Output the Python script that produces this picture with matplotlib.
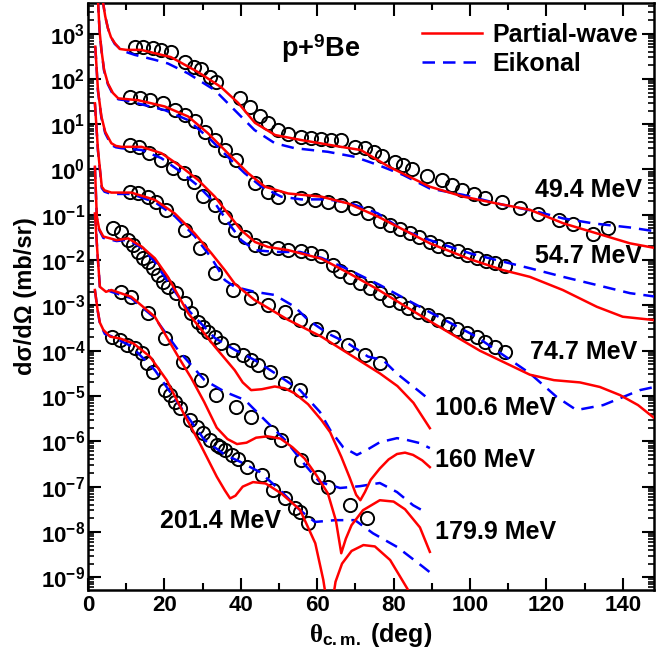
import numpy as np
import matplotlib
matplotlib.use("Agg")
import matplotlib.pyplot as plt
from matplotlib.ticker import FixedLocator, MultipleLocator, FuncFormatter, NullFormatter

plt.rcParams['font.family'] = 'Liberation Sans'
plt.rcParams['font.weight'] = 'bold'
plt.rcParams['mathtext.fontset'] = 'custom'
plt.rcParams['mathtext.bf'] = 'Liberation Sans:bold'
plt.rcParams['mathtext.rm'] = 'Liberation Serif'
plt.rcParams['mathtext.it'] = 'Liberation Serif:italic'

# angles in deg, cross sections given as log10(dsigma/dOmega [mb/sr])

# ---- 49.4 MeV
pw494_th = [3.0, 3.9, 4.5, 5.2, 6.0, 7.0, 8.3, 10.0, 13.9, 21.7, 28.8, 34.8, 39.3, 43.7, 49.0, 55.8, 66.2,
            71.4, 78.8, 89.5, 98.3, 107.0, 115.7, 124.5, 133.2, 141.9, 148.9]
pw494_lg = [4.30, 3.70, 3.38, 3.12, 2.92, 2.79, 2.66, 2.64, 2.64, 2.48, 2.15, 1.82, 1.47, 1.03, 0.76, 0.65, 0.50,
            0.43, 0.06, -0.38, -0.60, -0.75, -0.89, -1.19, -1.41, -1.63, -1.74]
ek494_th = [3.0, 3.9, 4.5, 5.2, 6.0, 7.0, 9.0, 12.2, 17.5, 20.9, 26.2, 33.2, 38.4, 43.6, 48.9, 54.1, 62.8,
            69.8, 75.9, 82.5, 89.5, 98.2, 108.7, 117.5, 124.4, 132.3, 141.9, 148.9]
ek494_lg = [4.30, 3.70, 3.38, 3.12, 2.92, 2.77, 2.62, 2.53, 2.42, 2.34, 2.12, 1.75, 1.31, 0.87, 0.58, 0.47, 0.39,
            0.28, 0.10, -0.12, -0.42, -0.56, -0.78, -0.93, -1.08, -1.19, -1.28, -1.37]
ex494_th = [12.2, 14.4, 17.0, 19.2, 21.6, 25.3, 27.7, 29.5, 31.9, 33.6, 39.7, 42.3, 44.9, 47.1, 49.7,
            52.4, 55.8, 58.5, 61.1, 63.7, 66.3, 69.8, 72.4, 75.0, 77.1, 80.4, 82.5, 84.7, 88.7, 92.6,
            95.2, 97.8, 101.0, 103.9, 108.3, 113.1, 117.9, 123.2, 127.0, 132.3, 136.2]
ex494_lg = [2.71, 2.71, 2.68, 2.64, 2.60, 2.38, 2.27, 2.21, 2.05, 1.94, 1.57, 1.39, 1.17, 1.02, 0.87,
            0.78, 0.72, 0.69, 0.67, 0.65, 0.65, 0.50, 0.48, 0.39, 0.30, 0.17, 0.10, 0.01, -0.14, -0.23,
            -0.34, -0.45, -0.54, -0.64, -0.72, -0.84, -0.99, -1.11, -1.21, -1.43, -1.30]

# ---- 54.7 MeV
pw547_th = [2.6, 3.0, 3.5, 4.2, 5.2, 6.5, 7.9, 13.1, 20.1, 26.2, 31.4, 36.6, 41.9, 46.3, 52.4, 61.1, 68.1,
            75.9, 89.5, 100.0, 108.6, 115.7, 124.3, 133.2, 140.0, 148.9]
pw547_lg = [3.74, 3.08, 2.64, 2.20, 1.90, 1.69, 1.57, 1.53, 1.39, 1.17, 0.80, 0.36, -0.08, -0.38, -0.53, -0.60, -0.75,
            -1.04, -1.63, -1.98, -2.22, -2.37, -2.66, -3.03, -3.25, -3.33]
ek547_th = [2.6, 3.0, 3.5, 4.2, 5.2, 6.5, 7.9, 9.6, 20.1, 26.2, 32.2, 37.4, 41.0, 45.4, 50.6, 55.8, 62.8,
            68.9, 75.9, 82.5, 89.5, 100.0, 107.0, 115.7, 124.4, 133.2, 141.9, 148.9]
ek547_lg = [3.74, 3.08, 2.64, 2.18, 1.88, 1.66, 1.55, 1.53, 1.31, 1.09, 0.65, 0.21, -0.08, -0.38, -0.60, -0.66, -0.66,
            -0.75, -0.97, -1.34, -1.56, -1.85, -2.00, -2.18, -2.37, -2.55, -2.73, -2.81]
ex547_th = [10.9, 13.5, 16.2, 19.6, 22.7, 25.3, 27.9, 30.5, 33.2, 35.8, 38.8, 43.6, 47.1, 49.7, 55.8,
            59.3, 62.8, 66.3, 69.8, 73.3, 76.4, 79.1, 81.7, 84.3, 86.7, 89.5, 91.7, 94.3, 96.9, 99.1,
            101.8, 104.2, 106.5, 109.2]
ex547_lg = [1.61, 1.57, 1.53, 1.47, 1.31, 1.20, 1.06, 0.83, 0.65, 0.43, 0.21, -0.30, -0.49, -0.60, -0.64,
            -0.67, -0.71, -0.78, -0.86, -0.97, -1.13, -1.23, -1.32, -1.41, -1.50, -1.59, -1.68, -1.76, -1.81, -1.89,
            -1.96, -2.02, -2.07, -2.13]

# ---- 74.7 MeV
pw747_th = [1.9, 2.6, 3.5, 4.5, 6.1, 7.3, 8.7, 14.0, 19.2, 24.4, 28.8, 33.2, 36.6, 40.1, 43.7, 47.1, 52.4,
            61.1, 68.1, 75.9, 89.5, 102.6, 115.7, 122.0, 128.8, 134.0, 139.3, 144.0, 148.9]
pw747_lg = [2.71, 1.75, 1.17, 0.83, 0.58, 0.52, 0.50, 0.50, 0.36, 0.06, -0.23, -0.60, -0.97, -1.34, -1.60, -1.71,
            -1.78, -1.97, -2.28, -2.65, -3.35, -4.00, -4.53, -4.65, -4.70, -4.80, -4.98, -5.20, -5.53]
ek747_th = [1.9, 2.6, 3.5, 4.5, 6.1, 7.3, 8.7, 14.0, 19.2, 24.4, 28.8, 33.2, 36.6, 40.1, 43.7, 49.0, 55.5,
            61.1, 68.0, 76.4, 89.5, 101.7, 115.7, 122.7, 127.9, 134.9, 144.5, 148.9]
ek747_lg = [2.71, 1.73, 1.14, 0.80, 0.54, 0.49, 0.47, 0.43, 0.25, -0.06, -0.36, -0.74, -1.16, -1.56, -1.78, -1.82,
            -1.82, -1.95, -2.20, -2.55, -3.15, -3.69, -4.50, -5.02, -5.31, -5.20, -4.87, -4.79]
ex747_th = [10.9, 13.3, 15.9, 19.2, 22.3, 25.1, 27.7, 30.1, 33.2, 35.8, 38.4, 41.0, 43.6, 46.3, 49.7,
            52.4, 55.8, 58.5, 61.1, 64.2, 66.0, 68.6, 71.2, 73.8, 76.4, 78.9, 81.7, 83.8, 86.5, 89.1,
            91.7, 94.3, 96.5, 99.1, 101.8, 103.9, 106.5, 109.2]
ex747_lg = [0.54, 0.50, 0.37, 0.21, 0.04, -0.08, -0.27, -0.58, -0.78, -1.04, -1.34, -1.50, -1.67, -1.74, -1.74,
            -1.78, -1.81, -1.85, -1.90, -2.10, -2.25, -2.37, -2.51, -2.62, -2.73, -2.88, -2.95, -3.06, -3.14, -3.21,
            -3.32, -3.41, -3.51, -3.62, -3.69, -3.80, -3.91, -4.02]

# ---- 100.6 MeV
pw1006_th = [1.8, 2.6, 3.6, 4.3, 6.1, 11.3, 17.5, 22.7, 27.9, 32.3, 35.8, 38.4, 43.6, 52.4, 61.1, 68.1,
             76.4, 81.0, 85.2, 89.5]
pw1006_lg = [1.46, 0.43, -0.38, -0.46, -0.51, -0.51, -0.67, -0.97, -1.41, -1.85, -2.22, -2.52, -2.88, -3.32, -3.69,
             -4.06, -4.50, -4.78, -5.15, -5.71]
ek1006_th = [1.8, 2.6, 3.6, 4.3, 6.1, 11.3, 17.5, 22.7, 27.9, 32.3, 35.8, 38.4, 43.6, 48.9, 54.1, 57.6,
             62.8, 68.1, 73.3, 77.3, 80.8, 86.9, 89.5]
ek1006_lg = [1.46, 0.41, -0.41, -0.49, -0.54, -0.54, -0.72, -1.03, -1.47, -1.95, -2.44, -2.59, -2.70, -2.77, -3.03,
             -3.32, -3.62, -3.84, -4.13, -4.21, -4.50, -4.91, -5.09]
ex1006_th = [10.9, 13.1, 15.7, 17.9, 20.5, 25.3, 29.2, 33.2, 38.0, 42.7, 47.1, 51.5, 55.4, 59.8, 64.1,
             68.1, 72.5, 76.4]
ex1006_lg = [-0.49, -0.53, -0.60, -0.71, -0.89, -1.34, -1.74, -2.29, -2.66, -2.84, -2.99, -3.14, -3.32, -3.51,
             -3.69, -3.87, -4.10, -4.28]

# ---- 160 MeV
pw160_th = [1.8, 2.3, 2.9, 4.0, 7.5, 10.5, 14.0, 17.5, 20.9, 26.2, 33.2, 38.4, 40.5, 42.7, 45.5, 48.9,
            51.5, 54.1, 57.6, 61.1, 63.4, 66.3, 68.5, 70.2, 71.3, 72.5, 74.0, 76.4, 78.7, 80.9, 83.0,
            85.1, 87.5, 89.5]
pw160_lg = [0.06, -1.04, -1.31, -1.48, -1.56, -1.52, -1.70, -1.96, -2.37, -3.17, -3.91, -4.43, -4.70, -4.87, -4.85,
            -4.79, -4.83, -4.94, -5.18, -5.53, -5.80, -6.34, -6.80, -7.18, -7.30, -7.12, -6.85, -6.60, -6.40,
            -6.28, -6.25, -6.30, -6.42, -6.57]
ek160_th = [1.8, 2.3, 2.9, 4.0, 7.5, 10.5, 14.0, 17.5, 20.9, 26.2, 33.2, 38.4, 43.7, 49.0, 55.5, 60.7,
            63.4, 66.8, 70.4, 73.0, 76.4, 80.9, 83.5, 86.9, 89.5]
ek160_lg = [0.06, -1.07, -1.33, -1.51, -1.58, -1.55, -1.73, -2.04, -2.48, -3.10, -3.72, -3.98, -4.21, -4.50, -4.87,
            -5.35, -5.75, -6.13, -6.30, -6.19, -6.02, -5.93, -5.97, -6.04, -6.15]
ex160_th = [6.5, 8.6, 10.5, 11.8, 13.1, 14.4, 15.7, 17.0, 18.3, 19.6, 20.9, 23.1, 25.3, 27.0, 28.8, 30.1,
            31.4, 33.2, 34.9, 38.0, 40.6, 42.7, 44.5, 47.6, 51.5, 55.4]
ex160_lg = [-1.29, -1.38, -1.56, -1.67, -1.82, -1.95, -2.04, -2.17, -2.33, -2.48, -2.59, -2.73, -2.95, -3.17, -3.36,
            -3.47, -3.58, -3.69, -3.84, -3.98, -4.10, -4.21, -4.32, -4.46, -4.72, -4.87]

# ---- 179.9 MeV
pw1799_th = [1.8, 2.5, 3.1, 4.7, 6.1, 11.3, 17.5, 23.6, 27.0, 30.4, 33.7, 36.5, 39.0, 41.5, 44.0, 47.0,
             50.4, 53.5, 56.7, 59.8, 62.8, 64.9, 66.3, 67.5, 69.0, 72.0, 76.4, 80.0, 83.0, 86.9, 89.5]
pw1799_lg = [-0.97, -1.89, -2.59, -2.70, -2.66, -2.81, -3.25, -4.13, -4.60, -5.13, -5.70, -5.95, -6.06, -6.03, -5.92,
             -5.89, -5.94, -6.13, -6.38, -6.75, -7.15, -7.75, -8.47, -8.15, -7.85, -7.52, -7.30, -7.33, -7.50,
             -7.90, -8.44]
ek1799_th = [1.8, 2.5, 3.1, 6.1, 11.3, 17.5, 23.6, 30.5, 35.9, 41.1, 46.3, 51.6, 56.8, 60.7, 66.0, 71.2,
             76.4, 80.9, 85.1, 88.7]
ek1799_lg = [-0.97, -1.89, -2.59, -2.70, -2.84, -3.28, -3.99, -4.65, -4.91, -5.09, -5.53, -5.97, -6.52, -6.90,
             -7.03, -6.99, -6.92, -7.12, -7.41, -7.58]
ex1799_th = [8.7, 11.3, 15.7, 20.1, 24.9, 29.7, 33.6, 38.8, 42.7, 48.0, 50.6, 55.8, 60.2, 62.8, 68.6, 73.0]
ex1799_lg = [-2.70, -2.81, -3.17, -3.73, -4.24, -4.65, -4.98, -5.24, -5.46, -5.79, -5.97, -6.41, -6.78, -7.00,
             -7.41, -7.70]

# ---- 201.4 MeV
pw2014_th = [1.8, 2.5, 3.1, 4.0, 5.8, 8.4, 11.9, 16.2, 20.6, 25.0, 29.3, 33.7, 35.8, 37.2, 38.6, 40.5,
             43.2, 46.5, 50.6, 55.5, 59.5, 61.6, 62.6, 63.2, 63.9, 64.8, 66.5, 69.0, 72.1, 75.1, 79.1,
             83.8, 86.0]
pw2014_lg = [-2.66, -3.10, -3.38, -3.54, -3.69, -3.73, -3.84, -4.13, -4.65, -5.38, -6.05, -6.78, -7.08, -7.26,
             -7.20, -7.00, -6.90, -6.93, -7.15, -7.51, -8.25, -9.06, -9.60, -10.0, -9.60, -9.10, -8.70, -8.42,
             -8.29, -8.32, -8.62, -9.28, -9.70]
ek2014_th = [1.8, 2.5, 3.1, 4.4, 6.1, 11.3, 17.5, 24.4, 30.5, 35.9, 39.8, 45.0, 50.3, 55.5, 59.4, 64.7,
             69.9, 74.6, 80.9, 87.7, 89.5]
ek2014_lg = [-2.66, -3.10, -3.40, -3.63, -3.68, -3.90, -4.43, -5.26, -5.97, -6.30, -6.45, -6.68, -7.08, -7.52,
             -7.78, -7.74, -7.74, -8.03, -8.33, -8.77, -8.89]
ex2014_th = [6.2, 8.4, 10.1, 12.3, 14.1, 15.4, 17.1, 20.2, 21.5, 22.8, 24.1, 26.7, 28.5, 30.2, 31.9, 33.7,
             34.6, 35.9, 37.6, 39.3, 41.5, 45.5, 48.5, 51.6, 54.2, 55.5, 57.7]
ex2014_lg = [-3.70, -3.76, -3.87, -3.95, -4.06, -4.28, -4.46, -4.87, -4.98, -5.13, -5.27, -5.53, -5.68, -5.82,
             -5.97, -6.08, -6.12, -6.19, -6.30, -6.38, -6.56, -6.74, -7.08, -7.26, -7.48, -7.55, -7.81]

energies = ['49.4 MeV', '54.7 MeV', '74.7 MeV', '100.6 MeV', '160 MeV', '179.9 MeV', '201.4 MeV']
# label anchor (deg, log10) and horizontal alignment
label_th = [145.0, 145.0, 143.7, 90.8, 90.8, 90.8, 18.8]
label_lg = [-0.45, -1.91, -4.03, -5.26, -6.41, -8.00, -7.76]
label_ha = ['right', 'right', 'right', 'left', 'left', 'left', 'left']

sets = [
    (pw494_th, pw494_lg, ek494_th, ek494_lg, ex494_th, ex494_lg),
    (pw547_th, pw547_lg, ek547_th, ek547_lg, ex547_th, ex547_lg),
    (pw747_th, pw747_lg, ek747_th, ek747_lg, ex747_th, ex747_lg),
    (pw1006_th, pw1006_lg, ek1006_th, ek1006_lg, ex1006_th, ex1006_lg),
    (pw160_th, pw160_lg, ek160_th, ek160_lg, ex160_th, ex160_lg),
    (pw1799_th, pw1799_lg, ek1799_th, ek1799_lg, ex1799_th, ex1799_lg),
    (pw2014_th, pw2014_lg, ek2014_th, ek2014_lg, ex2014_th, ex2014_lg),
]

fig = plt.figure(figsize=(6.57, 6.63), dpi=100)
ax = fig.add_axes([0.134, 0.110, 0.8615, 0.8855])

for i, (pt, pl, et, el, xt, xl) in enumerate(sets):
    ax.plot(xt, 10 ** np.array(xl), 'o', mfc='none', mec='black', ms=9.5, mew=1.4, zorder=2)
    ax.plot(et, 10 ** np.array(el), color='#0000ff', lw=1.8, dashes=(5, 3.2), zorder=3,
            label='Eikonal' if i == 0 else None)
    ax.plot(pt, 10 ** np.array(pl), color='#ff0000', lw=1.8, zorder=4,
            label='Partial-wave' if i == 0 else None)
    ax.text(label_th[i], 10 ** label_lg[i], energies[i], ha=label_ha[i], va='center',
            fontsize=18, fontweight='bold')

ax.text(50.5, 10 ** 2.66, r'p+$^{\mathbf{9}}$Be', fontsize=19.5, fontweight='bold', va='center')

ax.set_yscale('log')
ax.set_xlim(0, 148.2)
ax.set_ylim(5.21e-10, 4.73e3)

decades = np.arange(-9, 4)
minor = [m * 10.0 ** d for d in range(-10, 4) for m in range(2, 10)]
minor = [v for v in minor if 5.21e-10 <= v <= 4.73e3]
ax.xaxis.set_major_locator(MultipleLocator(20))
ax.xaxis.set_minor_locator(MultipleLocator(10))
ax.yaxis.set_major_locator(FixedLocator(10.0 ** decades))
ax.yaxis.set_minor_locator(FixedLocator(minor))
ax.yaxis.set_minor_formatter(NullFormatter())
ax.yaxis.set_major_formatter(FuncFormatter(lambda v, p: r'$\mathbf{10^{%d}}$' % round(np.log10(v))))

ax.tick_params(which='both', direction='in', top=True, right=True, labelsize=16, width=1.5)
ax.tick_params(which='major', length=9)
ax.tick_params(which='minor', length=5)
ax.tick_params(axis='y', which='minor', length=4, width=1.2)
ax.tick_params(axis='y', which='major', pad=2)
for s in ax.spines.values():
    s.set_linewidth(1.8)
for lab in ax.get_xticklabels():
    lab.set_fontweight('bold')

ax.set_xlabel(r'$\mathrm{\theta}_{\mathbf{c.m.}}$ (deg)', fontsize=18, fontweight='bold', labelpad=4)
ax.set_ylabel('dσ/dΩ (mb/sr)', fontsize=17, fontweight='bold', labelpad=3)

handles, labels = ax.get_legend_handles_labels()
ax.legend(handles[::-1], labels[::-1], loc='upper right', frameon=False, fontsize=18,
          handlelength=2.4, borderaxespad=0.3, labelspacing=0.2, handletextpad=0.4,
          bbox_to_anchor=(1.003, 0.9965))

fig.savefig('out.png', dpi=100)
